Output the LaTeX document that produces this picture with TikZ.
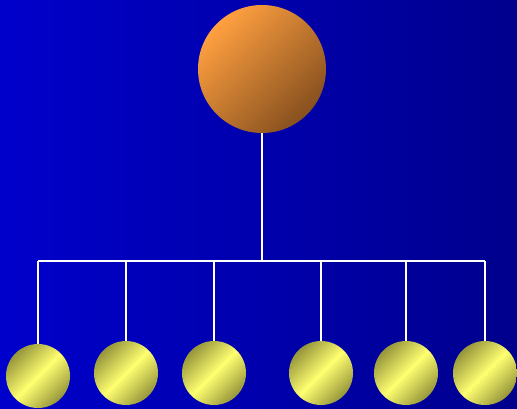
\documentclass[tikz,border=0pt]{standalone}
\usetikzlibrary{positioning}
\definecolor{bgleft}{RGB}{0,0,204}
\definecolor{bgright}{RGB}{0,0,140}
\definecolor{orlight}{RGB}{255,160,64}
\definecolor{ordark}{RGB}{135,80,30}
\definecolor{yelbright}{RGB}{255,255,112}
\definecolor{yeldark}{RGB}{150,150,60}
\tikzset{
  root/.style={circle, minimum size=128, inner sep=0pt,
    top color=orlight, bottom color=ordark, shading angle=45},
  leaf/.style={circle, minimum size=64, inner sep=0pt,
    top color=yeldark, bottom color=yeldark, middle color=yelbright, shading angle=45},
  wire/.style={white, line width=2}
}
\begin{document}
\begin{tikzpicture}[x=1pt, y=-1pt]
  \shade[left color=bgleft, right color=bgright] (0,0) rectangle (517,409);
  \useasboundingbox (0,0) rectangle (517,409);
  \node[root] (top) at (262,69) {};
  \coordinate (bus) at (262,261);
  \node[leaf] (l1) at (38,376) {};
  \node[leaf] (l2) at (126,373) {};
  \node[leaf] (l3) at (214,373) {};
  \node[leaf] (l4) at (321,373) {};
  \node[leaf] (l5) at (406,373) {};
  \node[leaf] (l6) at (485,373) {};
  \draw[wire] (top.south) -- (bus);
  \draw[wire] (l1.north |- bus) -- (l6.north |- bus);
  \foreach \n in {l1,l2,l3,l4,l5,l6}
    \draw[wire] (\n.north |- bus) -- (\n.north);
\end{tikzpicture}
\end{document}
